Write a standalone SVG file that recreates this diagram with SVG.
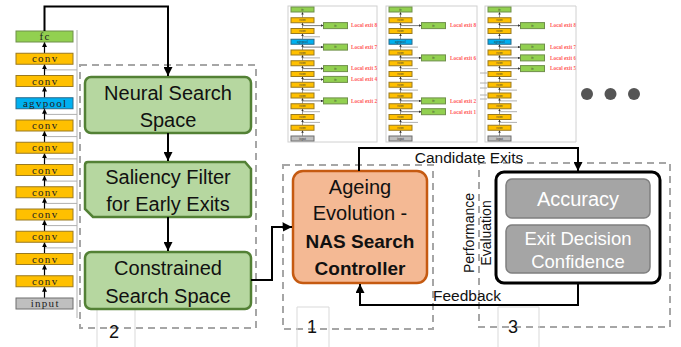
<svg xmlns="http://www.w3.org/2000/svg" xmlns:xlink="http://www.w3.org/1999/xlink" width="681" height="347" viewBox="0 0 681 347">
<style>
.t{font-family:"Liberation Sans",Arial,sans-serif;fill:#111;text-anchor:middle}
.ser{font-family:"Liberation Serif","Times New Roman",serif;fill:#222;text-anchor:middle}
.fc{fill:#92d050;stroke:#6f8f4a;stroke-width:1}
.cv{fill:#ffc000;stroke:#9a7a20;stroke-width:1}
.ap{fill:#00b0f0;stroke:#2a6a8a;stroke-width:1}
.in{fill:#bfbfbf;stroke:#6f6f6f;stroke-width:1}
.skip{stroke:#b0b0b0;stroke-width:1;fill:none}
.frame{fill:#fff;stroke:#d0d0d0;stroke-width:1}
.dash{fill:none;stroke:#a6a6a6;stroke-width:2;stroke-dasharray:7 5}
.grn{fill:#b6d7a0;stroke:#538135;stroke-width:2.5}
.conn{fill:none;stroke:#000;stroke-width:2}
.lab{fill:none;stroke:#d9d9d9;stroke-width:1}
.gray{fill:#a5a5a5;stroke:#7f7f7f;stroke-width:1.5}
.wt{font-family:"Liberation Sans",Arial,sans-serif;fill:#fff;text-anchor:middle}
.le{font-family:"Liberation Serif","Times New Roman",serif;fill:#ff5a5a;font-size:5.3px;font-weight:bold}
.mt{font-family:"Liberation Serif","Times New Roman",serif;fill:#333;font-size:3.4px;text-anchor:middle}
</style>
<defs>
<marker id="ah" viewBox="0 0 10 10" refX="10" refY="5" markerWidth="9" markerHeight="9" markerUnits="userSpaceOnUse" orient="auto"><path d="M0,0 L10,5 L0,10 z" fill="#000"/></marker>
<marker id="ahs" viewBox="0 0 10 10" refX="10" refY="5" markerWidth="5" markerHeight="5" markerUnits="userSpaceOnUse" orient="auto"><path d="M0,0 L10,5 L0,10 z" fill="#000"/></marker>
<marker id="aht" viewBox="0 0 10 10" refX="10" refY="5" markerWidth="2.5" markerHeight="2.5" markerUnits="userSpaceOnUse" orient="auto"><path d="M0,0 L10,5 L0,10 z" fill="#333"/></marker>
<clipPath id="clip3"><rect x="480" y="0" width="96" height="147"/></clipPath>
<g id="minicol">
<g stroke="#333" stroke-width="0.5" marker-end="url(#aht)">
<line x1="11.5" y1="10.75" x2="11.5" y2="5"/><line x1="11.5" y1="21.5" x2="11.5" y2="15.75"/><line x1="11.5" y1="32.25" x2="11.5" y2="26.5"/><line x1="11.5" y1="43" x2="11.5" y2="37.25"/><line x1="11.5" y1="53.75" x2="11.5" y2="48"/><line x1="11.5" y1="64.5" x2="11.5" y2="58.75"/><line x1="11.5" y1="75.25" x2="11.5" y2="69.5"/><line x1="11.5" y1="86" x2="11.5" y2="80.25"/><line x1="11.5" y1="96.75" x2="11.5" y2="91"/><line x1="11.5" y1="107.5" x2="11.5" y2="101.75"/><line x1="11.5" y1="118.25" x2="11.5" y2="112.5"/><line x1="11.5" y1="129" x2="11.5" y2="123.25"/>
</g>
<rect class="fc" x="0" y="0" width="23" height="5"/>
<rect class="cv" x="0" y="10.75" width="23" height="5"/>
<rect class="cv" x="0" y="21.5" width="23" height="5"/>
<rect class="ap" x="0" y="32.25" width="23" height="5"/>
<rect class="cv" x="0" y="43" width="23" height="5"/>
<rect class="cv" x="0" y="53.75" width="23" height="5"/>
<rect class="cv" x="0" y="64.5" width="23" height="5"/>
<rect class="cv" x="0" y="75.25" width="23" height="5"/>
<rect class="cv" x="0" y="86" width="23" height="5"/>
<rect class="cv" x="0" y="96.75" width="23" height="5"/>
<rect class="cv" x="0" y="107.5" width="23" height="5"/>
<rect class="cv" x="0" y="118.25" width="23" height="5"/>
<rect class="in" x="0" y="129" width="23" height="5"/>
<text class="mt" x="11.5" y="3.7">fc</text>
<text class="mt" x="11.5" y="14.4">conv</text>
<text class="mt" x="11.5" y="25.2">conv</text>
<text class="mt" x="11.5" y="35.9">agvpool</text>
<text class="mt" x="11.5" y="46.7">conv</text>
<text class="mt" x="11.5" y="57.4">conv</text>
<text class="mt" x="11.5" y="68.2">conv</text>
<text class="mt" x="11.5" y="78.9">conv</text>
<text class="mt" x="11.5" y="89.7">conv</text>
<text class="mt" x="11.5" y="100.4">conv</text>
<text class="mt" x="11.5" y="111.2">conv</text>
<text class="mt" x="11.5" y="121.9">conv</text>
<text class="mt" x="11.5" y="132.7">input</text>
</g>
<g id="exitbox"><line x1="0" y1="0" x2="21" y2="0" stroke="#444" stroke-width="0.7" marker-end="url(#aht)"/><rect class="fc" x="21" y="-3" width="24" height="6"/><text class="mt" x="33" y="1.2">fc</text></g>
</defs>

<!-- left backbone network -->
<g id="backbone">
<line class="skip" x1="77" y1="30" x2="77" y2="318"/>
<g class="skip">
<line x1="45" y1="69.9" x2="77" y2="69.9"/><line x1="45" y1="114.4" x2="77" y2="114.4"/><line x1="45" y1="136.6" x2="77" y2="136.6"/><line x1="45" y1="158.9" x2="77" y2="158.9"/><line x1="45" y1="181.1" x2="77" y2="181.1"/><line x1="45" y1="203.4" x2="77" y2="203.4"/><line x1="45" y1="225.6" x2="77" y2="225.6"/><line x1="45" y1="247.9" x2="77" y2="247.9"/>
</g>
<g stroke="#000" stroke-width="1.2" marker-end="url(#ahs)">
<line x1="44.5" y1="53.25" x2="44.5" y2="42"/><line x1="44.5" y1="75.5" x2="44.5" y2="64.25"/><line x1="44.5" y1="97.75" x2="44.5" y2="86.5"/><line x1="44.5" y1="120" x2="44.5" y2="108.75"/><line x1="44.5" y1="142.25" x2="44.5" y2="131"/><line x1="44.5" y1="164.5" x2="44.5" y2="153.25"/><line x1="44.5" y1="186.75" x2="44.5" y2="175.5"/><line x1="44.5" y1="209" x2="44.5" y2="197.75"/><line x1="44.5" y1="231.25" x2="44.5" y2="220"/><line x1="44.5" y1="253.5" x2="44.5" y2="242.25"/><line x1="44.5" y1="275.75" x2="44.5" y2="264.5"/><line x1="44.5" y1="298" x2="44.5" y2="286.75"/>
</g>
<rect class="fc" x="16" y="31" width="57" height="11"/>
<rect class="cv" x="16" y="53.25" width="57" height="11"/>
<rect class="cv" x="16" y="75.5" width="57" height="11"/>
<rect class="ap" x="16" y="97.75" width="57" height="11"/>
<rect class="cv" x="16" y="120" width="57" height="11"/>
<rect class="cv" x="16" y="142.25" width="57" height="11"/>
<rect class="cv" x="16" y="164.5" width="57" height="11"/>
<rect class="cv" x="16" y="186.75" width="57" height="11"/>
<rect class="cv" x="16" y="209" width="57" height="11"/>
<rect class="cv" x="16" y="231.25" width="57" height="11"/>
<rect class="cv" x="16" y="253.5" width="57" height="11"/>
<rect class="cv" x="16" y="275.75" width="57" height="11"/>
<rect class="in" x="16" y="298" width="57" height="11"/>
<g class="ser" font-size="11" letter-spacing="1.3">
<text x="45.2" y="40">fc</text>
<text x="45.2" y="62.2">conv</text>
<text x="45.2" y="84.5">conv</text>
<text x="45.2" y="106.7">agvpool</text>
<text x="45.2" y="129">conv</text>
<text x="45.2" y="151.2">conv</text>
<text x="45.2" y="173.5">conv</text>
<text x="45.2" y="195.7">conv</text>
<text x="45.2" y="218">conv</text>
<text x="45.2" y="240.2">conv</text>
<text x="45.2" y="262.5">conv</text>
<text x="45.2" y="284.7">conv</text>
<text x="45.2" y="307">input</text>
</g>
</g>

<!-- candidate networks (top) -->
<g id="cand1">
<rect class="frame" x="288" y="6" width="89" height="136"/>
<g class="skip"><line x1="302.5" y1="36.8" x2="320" y2="36.8"/><line x1="302.5" y1="57.9" x2="320" y2="57.9"/><line x1="302.5" y1="90.1" x2="320" y2="90.1"/><line x1="302.5" y1="111.7" x2="320" y2="111.7"/><line x1="302.5" y1="122.4" x2="320" y2="122.4"/></g>
<use xlink:href="#minicol" href="#minicol" x="291" y="7"/>
<use xlink:href="#exitbox" href="#exitbox" x="302.5" y="25.6"/>
<use xlink:href="#exitbox" href="#exitbox" x="302.5" y="47.1"/>
<use xlink:href="#exitbox" href="#exitbox" x="302.5" y="68.6"/>
<use xlink:href="#exitbox" href="#exitbox" x="302.5" y="79.4"/>
<use xlink:href="#exitbox" href="#exitbox" x="302.5" y="100.9"/>
<text class="le" x="351" y="27.4">Local exit 8</text>
<text class="le" x="351" y="48.9">Local exit 7</text>
<text class="le" x="351" y="70.4">Local exit 5</text>
<text class="le" x="351" y="81.2">Local exit 4</text>
<text class="le" x="351" y="102.7">Local exit 2</text>
</g>
<g id="cand2">
<rect class="frame" x="386" y="6" width="91" height="136"/>
<g class="skip"><line x1="400.5" y1="47.1" x2="418" y2="47.1"/><line x1="400.5" y1="68.6" x2="418" y2="68.6"/><line x1="400.5" y1="79.4" x2="418" y2="79.4"/><line x1="400.5" y1="90.1" x2="418" y2="90.1"/><line x1="400.5" y1="122.4" x2="418" y2="122.4"/></g>
<use xlink:href="#minicol" href="#minicol" x="389" y="7"/>
<use xlink:href="#exitbox" href="#exitbox" x="400.5" y="25.6"/>
<use xlink:href="#exitbox" href="#exitbox" x="400.5" y="57.9"/>
<use xlink:href="#exitbox" href="#exitbox" x="400.5" y="100.9"/>
<use xlink:href="#exitbox" href="#exitbox" x="400.5" y="111.7"/>
<text class="le" x="450" y="27.4">Local exit 8</text>
<text class="le" x="450" y="59.7">Local exit 6</text>
<text class="le" x="450" y="102.7">Local exit 2</text>
<text class="le" x="450" y="113.5">Local exit 1</text>
</g>
<g id="cand3" clip-path="url(#clip3)">
<rect class="frame" x="485" y="6" width="100" height="136"/>
<g class="skip"><line x1="477" y1="73" x2="487" y2="73"/><line x1="477" y1="83" x2="487" y2="83"/><line x1="477" y1="88" x2="487" y2="88"/><line x1="477" y1="95" x2="487" y2="95"/><line x1="477" y1="99" x2="487" y2="99"/><line x1="499.5" y1="79.4" x2="517" y2="79.4"/><line x1="499.5" y1="90.1" x2="517" y2="90.1"/><line x1="499.5" y1="100.9" x2="517" y2="100.9"/><line x1="499.5" y1="111.7" x2="517" y2="111.7"/><line x1="499.5" y1="122.4" x2="517" y2="122.4"/></g>
<use xlink:href="#minicol" href="#minicol" x="488" y="7"/>
<use xlink:href="#exitbox" href="#exitbox" x="499.5" y="25.6"/>
<use xlink:href="#exitbox" href="#exitbox" x="499.5" y="47.1"/>
<use xlink:href="#exitbox" href="#exitbox" x="499.5" y="57.9"/>
<use xlink:href="#exitbox" href="#exitbox" x="499.5" y="68.6"/>
<text class="le" x="550" y="27.4">Local exit 8</text>
<text class="le" x="550" y="48.9">Local exit 7</text>
<text class="le" x="550" y="59.7">Local exit 6</text>
<text class="le" x="550" y="70.4">Local exit 5</text>
</g>
<line x1="576" y1="6" x2="576" y2="142" stroke="#d0d0d0" stroke-width="1"/>
<g id="dots" fill="#555"><circle cx="587" cy="94" r="6"/><circle cx="610.5" cy="94" r="6"/><circle cx="634" cy="94" r="6"/></g>

<!-- stage 2 -->
<g id="stage2">
<rect class="dash" x="80" y="65" width="176" height="263"/>
<path class="lab" d="M97,347 V309 H135 V347"/>
<text class="t" x="114" y="338" font-size="18">2</text>
</g>
<g id="neural">
<rect class="grn" x="85" y="77" width="166" height="56" rx="6"/>
<text class="t" x="168" y="100" font-size="20">Neural Search</text>
<text class="t" x="168" y="127" font-size="20">Space</text>
</g>
<g id="saliency">
<path class="grn" d="M88,162 H245 L251,169 V214 Q251,217 248,217 H93 L85,209 V165 Q85,162 88,162 Z"/>
<text class="t" x="168" y="184" font-size="20">Saliency Filter</text>
<text class="t" x="168" y="211" font-size="20">for Early Exits</text>
</g>
<g id="constrained">
<rect class="grn" x="85" y="252" width="166" height="57" rx="6"/>
<text class="t" x="168" y="275" font-size="20">Constrained</text>
<text class="t" x="168" y="303" font-size="20">Search Space</text>
</g>

<!-- stage 1 -->
<g id="stage1">
<rect class="dash" x="283" y="165" width="150" height="164"/>
<path class="lab" d="M297,347 V307 H329 V347"/>
<text class="t" x="312" y="333" font-size="18">1</text>
</g>
<g id="ageing">
<rect x="293" y="171" width="134" height="112" rx="10" fill="#f4b994" stroke="#c55a11" stroke-width="2.5"/>
<text class="t" x="360" y="194" font-size="20">Ageing</text>
<text class="t" x="360" y="220" font-size="20">Evolution -</text>
<text class="t" x="360" y="248" font-size="19" font-weight="bold">NAS Search</text>
<text class="t" x="360" y="275" font-size="19" font-weight="bold">Controller</text>
</g>

<!-- stage 3 -->
<g id="stage3">
<rect class="dash" x="479" y="163" width="191" height="164"/>
<path class="lab" d="M498,347 V307 H539 V347"/>
<text class="t" x="513" y="333" font-size="18">3</text>
</g>
<g id="evaluation">
<rect x="496" y="172" width="164" height="111" rx="8" fill="#fff" stroke="#000" stroke-width="3"/>
<rect class="gray" x="506" y="179" width="144" height="39" rx="6"/>
<text class="wt" x="578" y="206" font-size="20">Accuracy</text>
<rect class="gray" x="506" y="225" width="144" height="48" rx="6"/>
<text class="wt" x="578" y="245" font-size="18.5">Exit Decision</text>
<text class="wt" x="578" y="268" font-size="18.5">Confidence</text>
<text class="t" transform="translate(474,233) rotate(-90)" font-size="14">Performance</text>
<text class="t" transform="translate(491,233) rotate(-90)" font-size="14">Evaluation</text>
</g>

<!-- connectors -->
<g id="connectors">
<path class="conn" d="M44.5,31 V6.5 H168 V76" marker-end="url(#ah)"/>
<path class="conn" d="M168,133 V161" marker-end="url(#ah)"/>
<path class="conn" d="M168,217 V251" marker-end="url(#ah)"/>
<path class="conn" d="M251,280 H272 V227 H292" marker-end="url(#ah)"/>
<path class="conn" d="M359,171 V148 H578 V171" marker-end="url(#ah)"/>
<path class="conn" d="M578,283 V305 H360 V284" marker-end="url(#ah)"/>
<text class="t" x="469" y="163" font-size="15.5">Candidate Exits</text>
<text class="t" x="467" y="301" font-size="15.5">Feedback</text>
</g>
</svg>
